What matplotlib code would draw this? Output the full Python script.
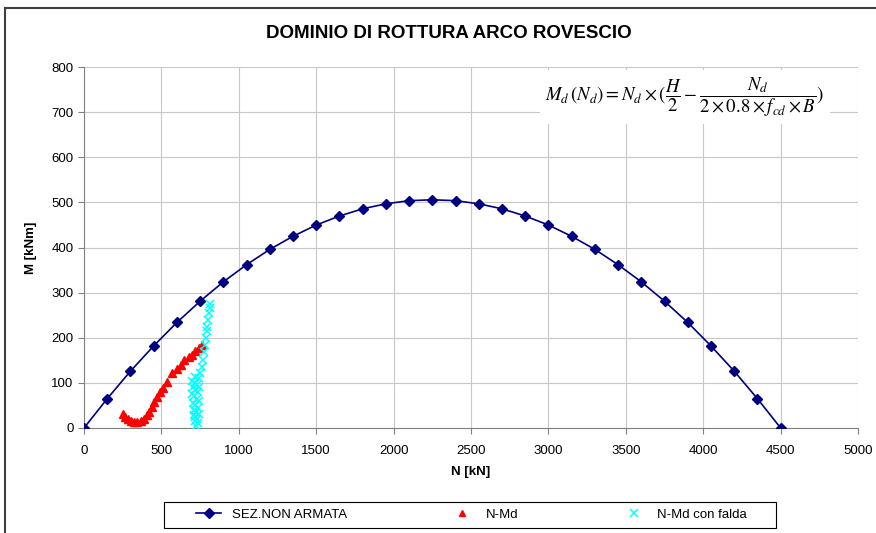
import matplotlib.pyplot as plt
from matplotlib.lines import Line2D
from matplotlib.patches import Rectangle

plt.rcParams['font.family'] = ['Liberation Sans', 'DejaVu Sans']
plt.rcParams['mathtext.fontset'] = 'stix'

# SEZ.NON ARMATA - domain curve
n_sez = [0, 150, 300, 450, 600, 750, 900, 1050, 1200, 1350, 1500, 1650, 1800,
         1950, 2100, 2250, 2400, 2550, 2700, 2850, 3000, 3150, 3300, 3450,
         3600, 3750, 3900, 4050, 4200, 4350, 4500]
m_sez = [0, 65, 126, 182, 234, 281, 324, 362, 396, 425, 450, 470, 486,
         497, 504, 506, 504, 497, 486, 470, 450, 425, 396, 362,
         324, 281, 234, 182, 126, 65, 0]

# N-Md
n_md = [255, 268, 285, 305, 325, 345, 365, 385, 405, 420, 437,
        455, 470, 490, 512, 534, 566, 600, 625, 648, 675, 700, 720,
        740, 760]
m_md = [32, 25, 19, 15, 13, 13, 15, 19, 28, 36, 47,
        58, 69, 80, 88, 103, 122, 130, 140, 150, 158, 162, 170,
        177, 184]

# N-Md con falda
n_falda = [700, 715, 730, 705, 720, 735, 700, 712, 728, 745, 705, 720, 735,
           710, 725, 740, 715, 730, 720, 735, 725, 708, 742, 718,
           745, 752, 760, 767, 775, 782, 788, 793, 797, 803, 807, 812, 815]
m_falda = [105, 100, 95, 90, 85, 80, 75, 70, 65, 60, 55, 50, 45,
           40, 35, 30, 25, 20, 15, 10, 5, 28, 92, 112,
           110, 122, 135, 150, 168, 184, 199, 214, 225, 239, 254, 265, 275]

fig = plt.figure(figsize=(8.76, 5.33), dpi=100)
ax = fig.add_axes([0.0959, 0.197, 0.8836, 0.677])

ax.plot(n_sez, m_sez, color='#000080', lw=1.2, marker='D', ms=5.5,
        zorder=3)
ax.plot(n_md, m_md, ls='none', marker='^', ms=5.5, color='#ff0000',
        mec='#ff0000', zorder=4)
ax.plot(n_falda, m_falda, ls='none', marker='x', ms=6, mew=1.1,
        color='#00ffff', zorder=5)

ax.set_xlim(0, 5000)
ax.set_ylim(0, 800)
ax.set_xticks(range(0, 5001, 500))
ax.set_yticks(range(0, 801, 100))
ax.grid(True, color='#c8c8c8', lw=0.8)
ax.set_axisbelow(True)
for s in ['top', 'right']:
    ax.spines[s].set_visible(False)
for s in ['left', 'bottom']:
    ax.spines[s].set_color('#808080')
ax.tick_params(colors='#808080', labelcolor='black', labelsize=9.5, length=4,
               direction='out')
ax.tick_params(axis='x', pad=8)

ax.set_xlabel('N [kN]', fontsize=9.5, fontweight='bold', labelpad=7)
ax.set_ylabel('M [kNm]', fontsize=9.5, fontweight='bold', labelpad=10)
fig.text(0.512, 0.938, 'DOMINIO DI ROTTURA ARCO ROVESCIO', ha='center',
         va='center', fontsize=13.5, fontweight='bold')

ax.text(3880, 734,
        r'$M_d\,(N_d) = N_d \times (\dfrac{H}{2} - '
        r'\dfrac{N_d}{2 \times 0.8 \times f_{cd} \times B})$',
        ha='center', va='center', fontsize=13.5,
        bbox=dict(facecolor='white', edgecolor='none', pad=4), zorder=6)

handles = [
    Line2D([], [], color='#000080', lw=1.2, marker='D', ms=5),
    Line2D([], [], ls='none', marker='^', ms=5, color='#ff0000'),
    Line2D([], [], ls='none', marker='x', ms=6, mew=1.1, color='#00ffff'),
]
fig.legend(handles, ['SEZ.NON ARMATA', 'N-Md', 'N-Md con falda'],
           loc='center', bbox_to_anchor=(0.538, 0.034), ncol=3,
           fontsize=9.5, frameon=False, handlelength=1.9,
           handletextpad=0.8, columnspacing=7.8)
# legend box drawn separately (wider than the entries)
fig.add_artist(Rectangle((164 / 876, 1 - 528 / 533), 612 / 876, 26 / 533,
                         transform=fig.transFigure, fill=False,
                         edgecolor='black', lw=0.8))

# outer chart frame (top and left edges visible)
fig.add_artist(Line2D([0.006, 1.0], [0.985, 0.985], color='#404040', lw=1.5,
                      transform=fig.transFigure))
fig.add_artist(Line2D([0.006, 0.006], [0.0, 0.985], color='#404040', lw=1.5,
                      transform=fig.transFigure))

fig.savefig('out.png', dpi=100)
